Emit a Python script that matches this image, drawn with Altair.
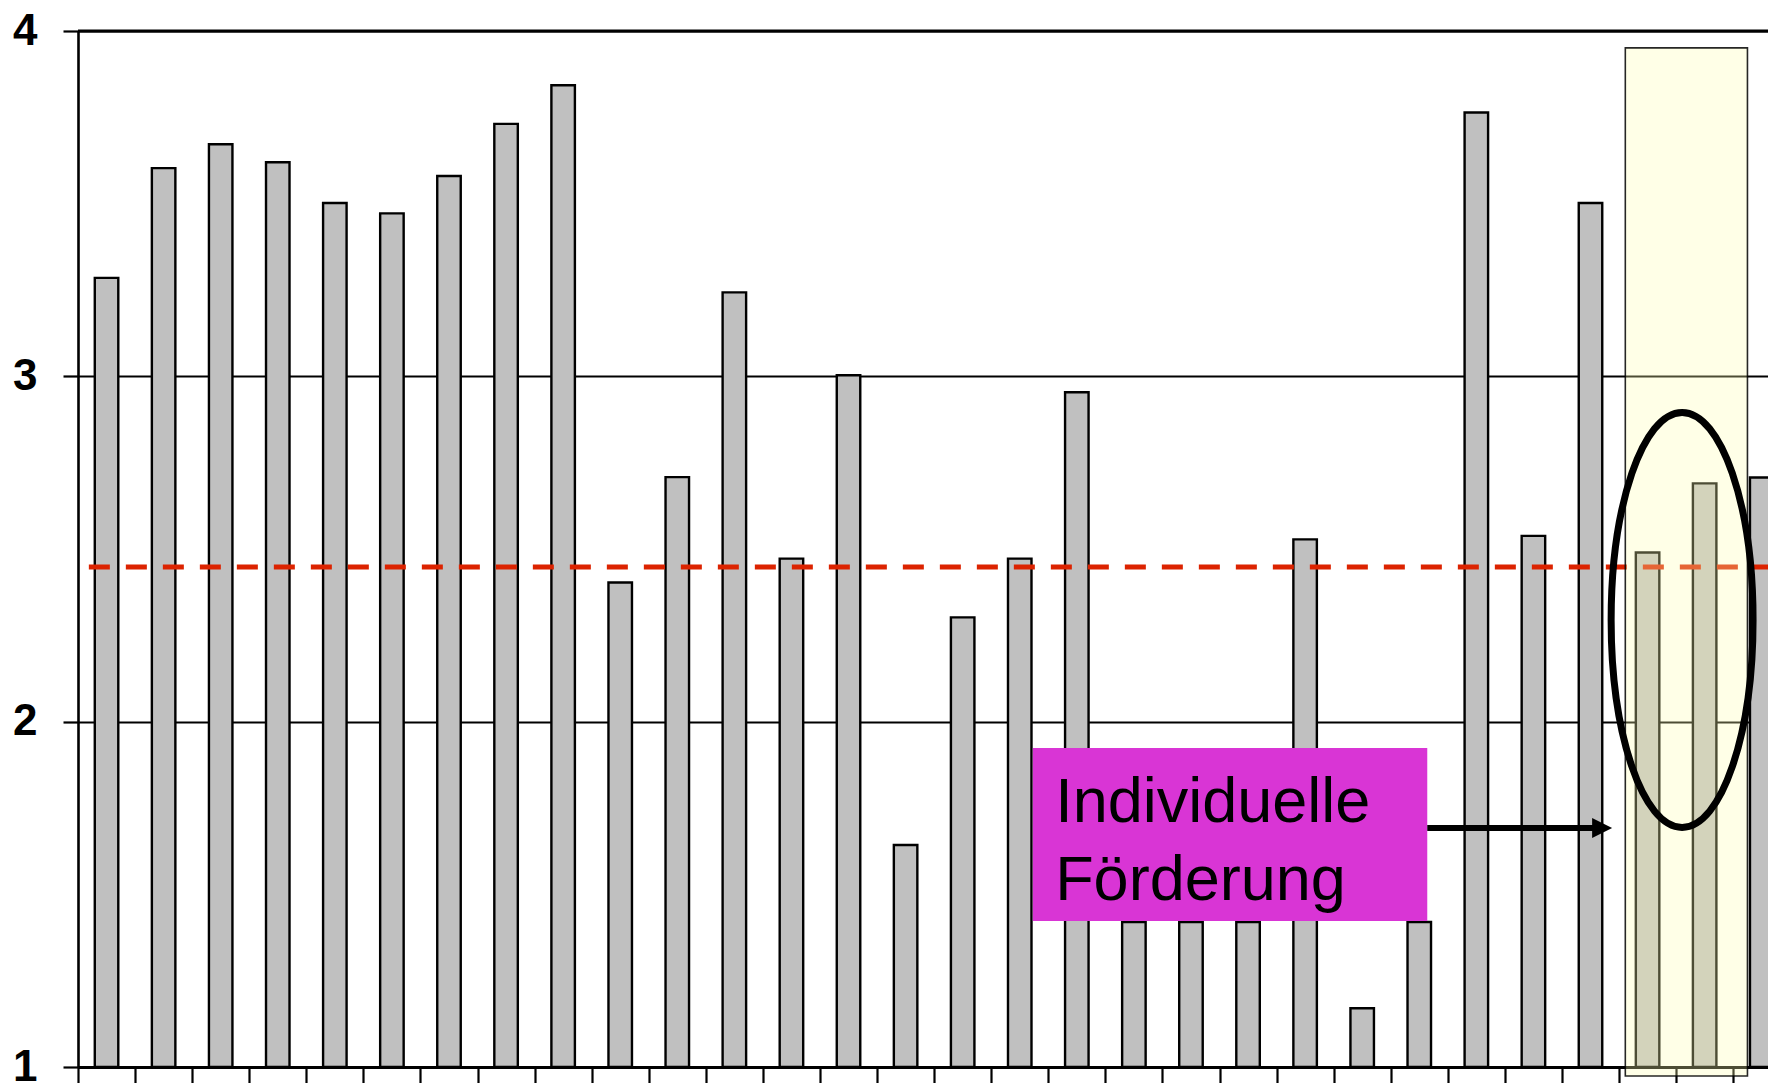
import altair as alt
import pandas as pd

# ---- data ----
categories = list(range(1, 31))
values = [3.285, 3.603, 3.672, 3.620, 3.502, 3.472, 3.580, 3.731, 3.843, 2.403,
          2.708, 3.243, 2.472, 3.003, 1.643, 2.302, 2.472, 2.954, 1.420, 1.420,
          1.420, 2.528, 1.170, 1.420, 3.764, 2.538, 3.502, 2.490, 2.690, 2.707]
y_ticks = [1, 2, 3, 4]
x_ticks = list(range(0, 30))
mean_value = 2.448
label_lines = ["Individuelle", "Förderung"]

# ---- annotation placement (data units) ----
label_line_y = [1.7095, 1.4836]
X_MAX = 29.61
W = 1690
H = 1036

df = pd.DataFrame({"cat": categories, "value": values})
df["pos"] = df["cat"] - 0.5

one = pd.DataFrame({"a": [0]})

xs = alt.Scale(domain=[0, X_MAX], nice=False, zero=False, padding=0)
ys = alt.Scale(domain=[1, 4], nice=False, zero=False, padding=0)

bars = alt.Chart(df).mark_bar(
    width=23.5, color="#c0c0c0", stroke="black", strokeWidth=2.4, clip=True
).encode(
    x=alt.X("pos:Q", scale=xs, axis=alt.Axis(
        values=x_ticks, labels=False, tickSize=24, tickWidth=2.2, tickColor="black",
        domainColor="black", domainWidth=3, grid=False, title=None)),
    y=alt.Y("value:Q", scale=ys, axis=alt.Axis(
        values=y_ticks, format="d", labelFont="Liberation Sans", labelFontSize=44,
        labelFontWeight="bold", labelColor="black", labelPadding=26,
        tickSize=15, tickWidth=2.2, tickColor="black", domainColor="black",
        domainWidth=2.6, grid=True, gridColor="black", gridWidth=2, title=None)),
    y2=alt.datum(1),
)

top_line = alt.Chart(pd.DataFrame({"t": [4]})).mark_rule(
    color="black", strokeWidth=3
).encode(x=alt.datum(0), x2=alt.datum(X_MAX), y="t:Q")

mean_rule = alt.Chart(pd.DataFrame({"m": [mean_value]})).mark_rule(
    color="#dc2300", strokeWidth=5, strokeDash=[21, 16], clip=True
).encode(x=alt.datum(0.19), x2=alt.datum(X_MAX), y="m:Q")

highlight = alt.Chart(one).mark_rect(
    fill="#ffffb0", fillOpacity=0.3, stroke="black", strokeOpacity=0.85, strokeWidth=1.6
).encode(x=alt.datum(27.11), x2=alt.datum(29.25), y=alt.datum(3.951), y2=alt.datum(0.974))

a = 0.342
k = 0.5523
ka = round(k * a, 4)
ellipse_path = (f"M 0 -1 C {ka} -1 {a} -{k} {a} 0 C {a} {k} {ka} 1 0 1 "
                f"C -{ka} 1 -{a} {k} -{a} 0 C -{a} -{k} -{ka} -1 0 -1 Z")
ellipse = alt.Chart(one).mark_point(
    shape=ellipse_path, size=415 * 415, filled=False, stroke="black",
    strokeWidth=7, opacity=1
).encode(x=alt.datum(28.105), y=alt.datum(2.2945))

magenta = alt.Chart(one).mark_rect(fill="#d935d5").encode(
    x=alt.datum(16.73), x2=alt.datum(23.64), y=alt.datum(1.924), y2=alt.datum(1.423))

text = alt.Chart(pd.DataFrame({"t": label_lines, "ly": label_line_y})).mark_text(
    align="left", baseline="alphabetic", font="Liberation Sans", fontSize=63, color="black"
).encode(x=alt.datum(17.12), y="ly:Q", text="t:N")

arrow_line = alt.Chart(one).mark_rule(color="black", strokeWidth=6).encode(
    x=alt.datum(23.64), x2=alt.datum(26.6), y=alt.datum(1.692))
arrow_head = alt.Chart(one).mark_point(
    shape="M -1 -1 L 1 0 L -1 1 Z", size=400, filled=True, color="black", opacity=1
).encode(x=alt.datum(26.704), y=alt.datum(1.692))

chart = alt.layer(
    bars, top_line, mean_rule, highlight, ellipse, magenta, text, arrow_line, arrow_head
).properties(
    width=W, height=H,
    padding={"left": 70, "top": 23, "right": 0, "bottom": 16},
    autosize="none",
    background="white",
).configure_view(stroke=None)

chart.save("out.html", embed_options={"renderer": "svg", "actions": False})
